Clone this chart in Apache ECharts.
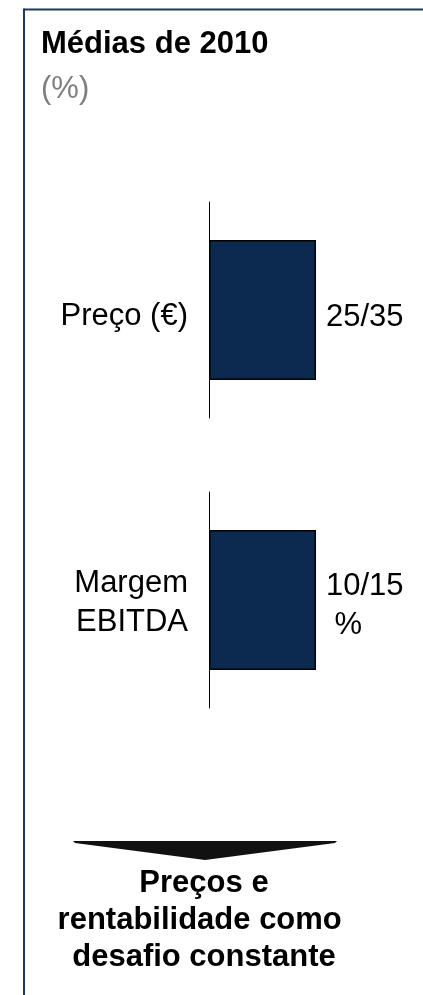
<!DOCTYPE html>
<html>
<head>
<meta charset="utf-8">
<script src="https://cdn.jsdelivr.net/npm/echarts@6/dist/echarts.min.js"></script>
<style>
html,body{margin:0;padding:0;background:#fff;}
#chart{width:423px;height:995px;}
</style>
</head>
<body>
<div id="chart"></div>
<script>
// Data
var categories = ['Preço (€)', 'Margem\nEBITDA'];
var barValues = [1, 1];               // schematic bars, equal length
var valueLabels = ['25/35', '10/15\n %'];
var titleText = 'Médias de 2010';
var unitText = '(%)';
var conclusionText = 'Preços e\nrentabilidade como \ndesafio constante';

var FONT = '"Liberation Sans", Arial, sans-serif';
var FS = 31;
var barColor = '#0c2a4f';
var frameColor = '#1b3a60';

var chart = echarts.init(document.getElementById('chart'), null, {renderer: 'canvas'});

var gridTops = [202, 492];
var labelShift = [12, 6];
var valueOffsets = [[0, 7], [0, 6]];

var grids = [], xAxes = [], yAxes = [], series = [];
categories.forEach(function (cat, i) {
  grids.push({left: 209, top: gridTops[i], width: 107, height: 216, containLabel: false});
  xAxes.push({type: 'value', gridIndex: i, min: 0, max: 1, show: false});
  yAxes.push({
    type: 'category', gridIndex: i, data: [cat],
    axisLine: {show: true, lineStyle: {color: '#000', width: 1}},
    axisTick: {show: false},
    splitLine: {show: false},
    axisLabel: {
      margin: 21, align: 'right',
      formatter: function (v) {
        return v.split('\n').map(function (s) { return '{t|' + s + '}'; }).join('\n');
      },
      rich: {
        t: {fontSize: FS, color: '#000', fontFamily: FONT, lineHeight: 39, align: 'right'},
        pad: {}
      },
      padding: [labelShift[i], 0, 0, 0]
    }
  });
  series.push({
    type: 'bar', xAxisIndex: i, yAxisIndex: i,
    data: [barValues[i]], barWidth: 140,
    itemStyle: {color: barColor, borderColor: '#000', borderWidth: 1.5},
    label: {
      show: true, position: 'right', distance: 10,
      formatter: valueLabels[i], fontSize: FS, lineHeight: 39,
      color: '#000', fontFamily: FONT, align: 'left', offset: valueOffsets[i]
    },
    silent: true, animation: false
  });
});

chart.setOption({
  animation: false,
  backgroundColor: '#fff',
  grid: grids,
  xAxis: xAxes,
  yAxis: yAxes,
  series: series,
  graphic: [
    // frame
    {type: 'line', shape: {x1: 24, y1: 9.5, x2: 423, y2: 9.5}, style: {stroke: frameColor, lineWidth: 2}},
    {type: 'line', shape: {x1: 24, y1: 8.5, x2: 24, y2: 995}, style: {stroke: frameColor, lineWidth: 2}},
    // title
    {type: 'text', x: 41, y: 44, style: {text: titleText, font: 'bold ' + FS + 'px ' + FONT, fill: '#000', verticalAlign: 'middle'}},
    {type: 'text', x: 41, y: 89, style: {text: unitText, font: FS + 'px ' + FONT, fill: '#7f7f7f', verticalAlign: 'middle'}},
    // arrow
    {type: 'polygon', shape: {points: [[73, 841], [337, 841], [335, 843], [205, 860], [75, 843]]}, style: {fill: '#111'}},
    // conclusion
    {type: 'text', x: 204, y: 920, style: {text: conclusionText, font: 'bold ' + FS + 'px ' + FONT, fill: '#000',
      align: 'center', verticalAlign: 'middle', lineHeight: 37}}
  ]
});
</script>
</body>
</html>
